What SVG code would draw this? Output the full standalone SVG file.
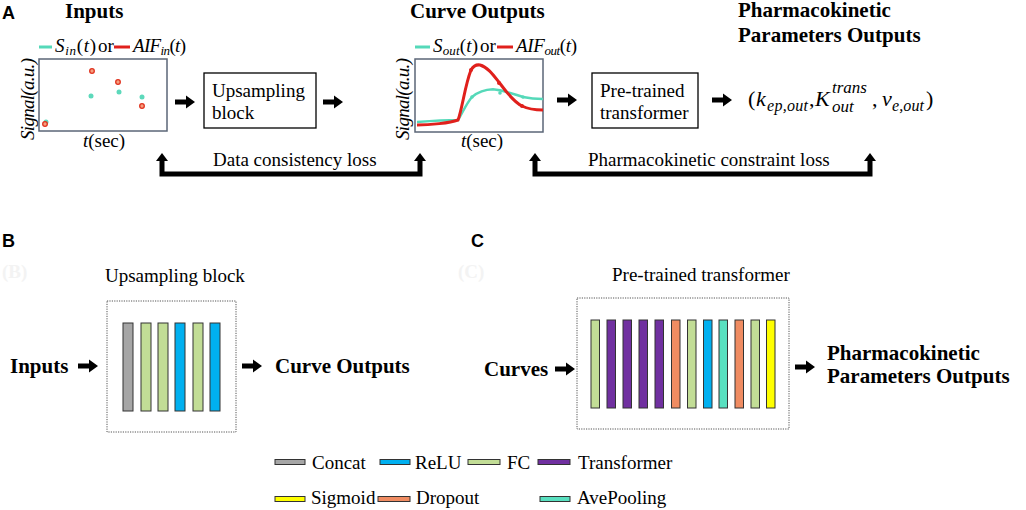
<svg xmlns="http://www.w3.org/2000/svg" xmlns:xlink="http://www.w3.org/1999/xlink" width="1026" height="510" viewBox="0 0 1026 510">
<style>
.h{font-family:"Liberation Serif","Times New Roman",serif;font-weight:bold;font-size:21px;fill:#000}
.t{font-family:"Liberation Serif","Times New Roman",serif;font-size:19px;fill:#000}
.lab{font-family:"Liberation Sans",Arial,sans-serif;font-weight:bold;font-size:18px;fill:#000}
.faint{font-family:"Liberation Serif",serif;font-weight:bold;font-size:19px;fill:#f3f3f3}
.m{font-family:"Liberation Serif","Times New Roman",serif;font-size:19px;fill:#000}
.i{font-style:italic}
.plot{fill:#fff;stroke:#5b6677;stroke-width:1.5}
.box{fill:#fff;stroke:#000;stroke-width:1.3}
.dotbox{fill:none;stroke:#555;stroke-width:1;stroke-dasharray:1.2 1.2}
.bar{stroke:#333;stroke-width:1}
.sw{stroke:#333;stroke-width:1}
.gray{fill:#a6a6a6}.green{fill:#c2dd96}.blue{fill:#00b0f0}.purple{fill:#7030a0}.orange{fill:#f08c62}.teal{fill:#59e0c0}.yellow{fill:#ffff00}
.fb{fill:none;stroke:#000;stroke-width:5}
.tealc{fill:none;stroke:#55d9b9;stroke-width:2.5}
.redc{fill:none;stroke:#e0201c;stroke-width:3}
</style>
<defs>
<path id="ar" d="M0,-2.6H11V-6.5L20,0L11,6.5V2.6H0Z" fill="#000"/>
<path id="up" d="M-6,8L0,0L6,8Z" fill="#000"/>
</defs>

<!-- Panel A -->
<g id="labelA"><text class="lab" x="2" y="19">A</text></g>
<g id="inputs-title"><text class="h" x="65" y="18">Inputs</text></g>
<g id="inputs-plot">
<line x1="39" y1="47" x2="52" y2="47" stroke="#55d9b9" stroke-width="3"/>
<text class="m" x="55" y="52" textLength="41"><tspan class="i">S</tspan><tspan class="i" font-size="13" dy="3">in</tspan><tspan dy="-3">(</tspan><tspan class="i">t</tspan>)</text>
<text class="m" x="98" y="52">or</text>
<line x1="114" y1="47" x2="130" y2="47" stroke="#e0201c" stroke-width="3"/>
<text class="m" x="133" y="52" textLength="53"><tspan class="i">AIF</tspan><tspan class="i" font-size="13" dy="3">in</tspan><tspan dy="-3">(</tspan><tspan class="i">t</tspan>)</text>
<rect class="plot" x="39" y="59" width="128" height="72"/>
<circle cx="46" cy="122" r="2.5" fill="#5dd9bb"/>
<circle cx="45" cy="124" r="2.3" fill="#f5a080" stroke="#e0301c" stroke-width="1.3"/>
<circle cx="92" cy="71" r="2.3" fill="#f5a080" stroke="#e0301c" stroke-width="1.3"/>
<circle cx="91" cy="96" r="2.5" fill="#5dd9bb"/>
<circle cx="118" cy="82" r="2.3" fill="#f5a080" stroke="#e0301c" stroke-width="1.3"/>
<circle cx="119" cy="92" r="2.5" fill="#5dd9bb"/>
<circle cx="142" cy="97" r="2.5" fill="#5dd9bb"/>
<circle cx="142" cy="106" r="2.3" fill="#f5a080" stroke="#e0301c" stroke-width="1.3"/>
<text class="m i" transform="translate(34,99) rotate(-90)" text-anchor="middle" font-size="18" textLength="82">Signal(a.u.)</text>
<text class="m" x="83" y="147" textLength="42"><tspan class="i">t</tspan>(sec)</text>
</g>
<g id="upsampling-block">
<rect class="box" x="204" y="73" width="112" height="55"/>
<text class="t" x="212" y="97" font-size="20">Upsampling</text>
<text class="t" x="212" y="119" font-size="20">block</text>
</g>
<g id="curve-outputs-title"><text class="h" x="410" y="18">Curve Outputs</text></g>
<g id="curve-plot">
<line x1="415" y1="47" x2="430" y2="47" stroke="#55d9b9" stroke-width="3"/>
<text class="m" x="433" y="52" textLength="45"><tspan class="i">S</tspan><tspan class="i" font-size="13" dy="3">out</tspan><tspan dy="-3">(</tspan><tspan class="i">t</tspan>)</text>
<text class="m" x="480" y="52">or</text>
<line x1="497" y1="47" x2="513" y2="47" stroke="#e0201c" stroke-width="3"/>
<text class="m" x="516" y="52" textLength="61"><tspan class="i">AIF</tspan><tspan class="i" font-size="13" dy="3">out</tspan><tspan dy="-3">(</tspan><tspan class="i">t</tspan>)</text>
<rect class="plot" x="415" y="59" width="128" height="73"/>
<path class="tealc" d="M417,122 C430,121 450,120 458,120 C462,114 466,104 472,97 C478,92 486,89.5 493,89.3 C503,90 513,94 523,97 C530,98.5 537,99 543,99"/>
<path class="redc" d="M417,125 C430,125 450,123 458,120 C462,110 465,85 471,70 C474,65 477,64.5 480,65 C488,67 494,76 500,83.5 C507,93 514,102 522,106 C528,109 535,110 543,110"/>
<circle cx="471" cy="70" r="2" fill="#e0201c"/>
<circle cx="499" cy="83" r="2" fill="#e0201c"/>
<circle cx="522" cy="106" r="2" fill="#e0201c"/>
<circle cx="472" cy="97" r="1.8" fill="#55d9b9"/>
<circle cx="500" cy="93" r="1.8" fill="#55d9b9"/>
<circle cx="523" cy="97" r="1.8" fill="#55d9b9"/>
<text class="m i" transform="translate(409,99) rotate(-90)" text-anchor="middle" font-size="18" textLength="82">Signal(a.u.)</text>
<text class="m" x="461" y="147" textLength="42"><tspan class="i">t</tspan>(sec)</text>
</g>
<g id="pretrained-transformer">
<rect class="box" x="592" y="73" width="106" height="55"/>
<text class="t" x="600" y="97" font-size="20">Pre-trained</text>
<text class="t" x="600" y="119" font-size="20">transformer</text>
</g>
<g id="pk-title">
<text class="h" x="738" y="17">Pharmacokinetic</text>
<text class="h" x="738" y="42">Parameters Outputs</text>
</g>
<g id="pk-formula" font-family="'Liberation Serif','Times New Roman',serif">
<text x="748" y="106" font-size="22">(</text>
<text x="756" y="106" font-size="22" font-style="italic">k</text>
<text x="767" y="111" font-size="16" font-style="italic" textLength="41">ep,out</text>
<text x="809" y="106" font-size="22">,</text>
<text x="815" y="106" font-size="22" font-style="italic">K</text>
<text x="832" y="93" font-size="17" font-style="italic">trans</text>
<text x="832" y="112" font-size="17" font-style="italic">out</text>
<text x="872" y="106" font-size="22">,</text>
<text x="882" y="106" font-size="22" font-style="italic">v</text>
<text x="892" y="111" font-size="16" font-style="italic" textLength="32">e,out</text>
<text x="926" y="106" font-size="22">)</text>
</g>
<g id="loss-labels">
<text class="t" x="213" y="166">Data consistency loss</text>
<text class="t" x="588" y="166">Pharmacokinetic constraint loss</text>
</g>

<!-- Panel B -->
<g id="labelB"><text class="lab" x="2" y="247">B</text><text class="faint" x="2" y="278">(B)</text></g>
<g id="b-inputs"><text class="h" x="10" y="373">Inputs</text></g>
<g id="b-upsampling">
<text class="t" x="105" y="282">Upsampling block</text>
<rect class="dotbox" x="107" y="301" width="129" height="131"/>
<rect class="bar gray" x="123" y="323" width="10" height="88"/>
<rect class="bar green" x="141" y="323" width="10" height="88"/>
<rect class="bar green" x="158" y="323" width="10" height="88"/>
<rect class="bar blue" x="175" y="323" width="10" height="88"/>
<rect class="bar green" x="193" y="323" width="10" height="88"/>
<rect class="bar blue" x="210" y="323" width="10" height="88"/>
</g>
<g id="b-curve-outputs"><text class="h" x="275" y="373">Curve Outputs</text></g>

<!-- Panel C -->
<g id="labelC"><text class="lab" x="471" y="247">C</text><text class="faint" x="458" y="278">(C)</text></g>
<g id="c-curves"><text class="h" x="484" y="376" font-size="19">Curves</text></g>
<g id="c-transformer">
<text class="t" x="612" y="281">Pre-trained transformer</text>
<rect class="dotbox" x="577" y="298" width="212" height="131"/>
<rect class="bar green" x="591" y="320" width="8.5" height="88"/>
<rect class="bar purple" x="607" y="320" width="8.5" height="88"/>
<rect class="bar purple" x="623" y="320" width="8.5" height="88"/>
<rect class="bar purple" x="639" y="320" width="8.5" height="88"/>
<rect class="bar purple" x="655" y="320" width="8.5" height="88"/>
<rect class="bar orange" x="671.5" y="320" width="8.5" height="88"/>
<rect class="bar green" x="687.5" y="320" width="8.5" height="88"/>
<rect class="bar blue" x="703.5" y="320" width="8.5" height="88"/>
<rect class="bar teal" x="719" y="320" width="8.5" height="88"/>
<rect class="bar orange" x="735" y="320" width="8.5" height="88"/>
<rect class="bar green" x="751" y="320" width="8.5" height="88"/>
<rect class="bar yellow" x="766.5" y="320" width="8.5" height="88"/>
</g>
<g id="c-pk-outputs">
<text class="h" x="827" y="360" font-size="22">Pharmacokinetic</text>
<text class="h" x="827" y="383" font-size="22">Parameters Outputs</text>
</g>

<!-- Legend -->
<g id="legend">
<rect class="sw gray" x="275" y="459.5" width="30" height="5"/><text class="t" x="312" y="469">Concat</text>
<rect class="sw blue" x="380" y="459.5" width="30" height="5"/><text class="t" x="415" y="469">ReLU</text>
<rect class="sw green" x="468" y="459.5" width="32" height="5"/><text class="t" x="507" y="469">FC</text>
<rect class="sw purple" x="538" y="459.5" width="32" height="5"/><text class="t" x="578" y="469">Transformer</text>
<rect class="sw yellow" x="275" y="496.5" width="30" height="5"/><text class="t" x="311" y="504">Sigmoid</text>
<rect class="sw orange" x="378" y="496.5" width="32" height="5"/><text class="t" x="416" y="504">Dropout</text>
<rect class="sw teal" x="540" y="496.5" width="30" height="5"/><text class="t" x="577" y="504">AvePooling</text>
</g>

<!-- Connectors -->
<g id="connectors">
<use xlink:href="#ar" x="175" y="102"/>
<use xlink:href="#ar" x="323" y="102"/>
<use xlink:href="#ar" x="557" y="100"/>
<use xlink:href="#ar" x="712" y="100"/>
<path class="fb" d="M162,160V174H420V160"/>
<use xlink:href="#up" x="162" y="153"/>
<use xlink:href="#up" x="420" y="153"/>
<path class="fb" d="M535,160V174H870V160"/>
<use xlink:href="#up" x="535" y="153"/>
<use xlink:href="#up" x="870" y="153"/>
<use xlink:href="#ar" x="78" y="366"/>
<use xlink:href="#ar" x="242" y="366"/>
<use xlink:href="#ar" x="555" y="369"/>
<use xlink:href="#ar" x="795" y="367"/>
</g>
</svg>
